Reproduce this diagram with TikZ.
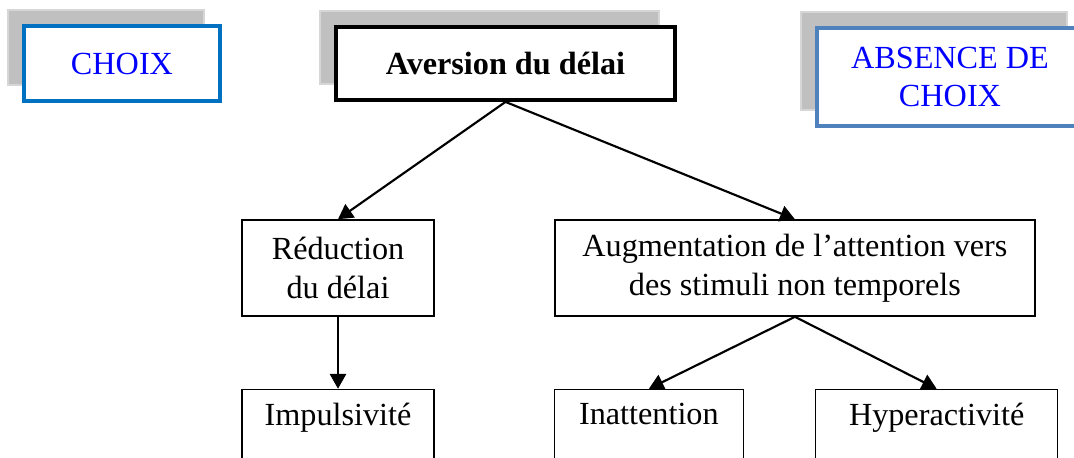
\documentclass[tikz,border=0pt]{standalone}
\usepackage{fontspec}
\setmainfont{Liberation Serif}
\usetikzlibrary{arrows.meta,positioning,shadows}
\definecolor{choixblue}{RGB}{0,112,192}
\definecolor{absenceblue}{RGB}{79,129,189}
\definecolor{shadowgray}{RGB}{192,192,192}
\definecolor{shadowedge}{RGB}{214,214,214}

\begin{document}
\begin{tikzpicture}[
  x=0.3725pt, y=-0.3725pt,
  node distance=26.8pt and 44.5pt,
  font=\fontsize{12pt}{14.4pt}\selectfont,
  box/.style={draw, line width=0.55pt, align=center, inner sep=0pt,
              minimum height=35.8pt},
  lowbox/.style={box, minimum height=37pt},
  headbox/.style={draw, line width=1.4pt, fill=white, align=center, inner sep=0pt,
                  copy shadow={shadow xshift=-6pt, shadow yshift=6pt,
                               fill=shadowgray, draw=shadowedge, line width=0.6pt}},
  arr/.style={-{Triangle[length=5.5pt, width=6pt]}, line width=0.8pt}
]
\useasboundingbox (0,0) rectangle (1074,457);
% top row
\node[headbox, draw=choixblue, text=blue, minimum width=73pt, minimum height=27.9pt]
  (choix) at (122,63.5) {CHOIX};
\node[headbox, draw=black, minimum width=126.3pt, minimum height=27.2pt]
  (aversion) at (505.5,63.5) {\textbf{Aversion du délai}};
\node[headbox, draw=absenceblue, text=blue, minimum width=99.1pt, minimum height=36.5pt]
  (absence) at (950,77) {ABSENCE DE\\CHOIX};
% middle row
\node[box, minimum width=71.5pt] (reduction) at (338,268) {Réduction\\du délai};
\node[box, minimum width=178.8pt, right=of reduction] (augmentation)
  {Augmentation de l’attention vers\\des stimuli non temporels};
% bottom row
\node[lowbox, minimum width=71.5pt, below=of reduction] (impulsivite) {Impulsivité\\\strut};
\node[lowbox, minimum width=70.4pt, right=44.3pt of impulsivite] (inattention) {Inattention\\\strut};
\node[lowbox, minimum width=90.1pt, right=26.4pt of inattention] (hyperactivite) {Hyperactivité\\\strut};
\draw[arr] (aversion.south) -- (reduction.north);
\draw[arr] (aversion.south) -- (augmentation.north);
\draw[arr] (reduction.south) -- (impulsivite.north);
\draw[arr] (augmentation.south) -- (inattention.north);
\draw[arr] (augmentation.south) -- (hyperactivite.north);
\end{tikzpicture}
\end{document}
